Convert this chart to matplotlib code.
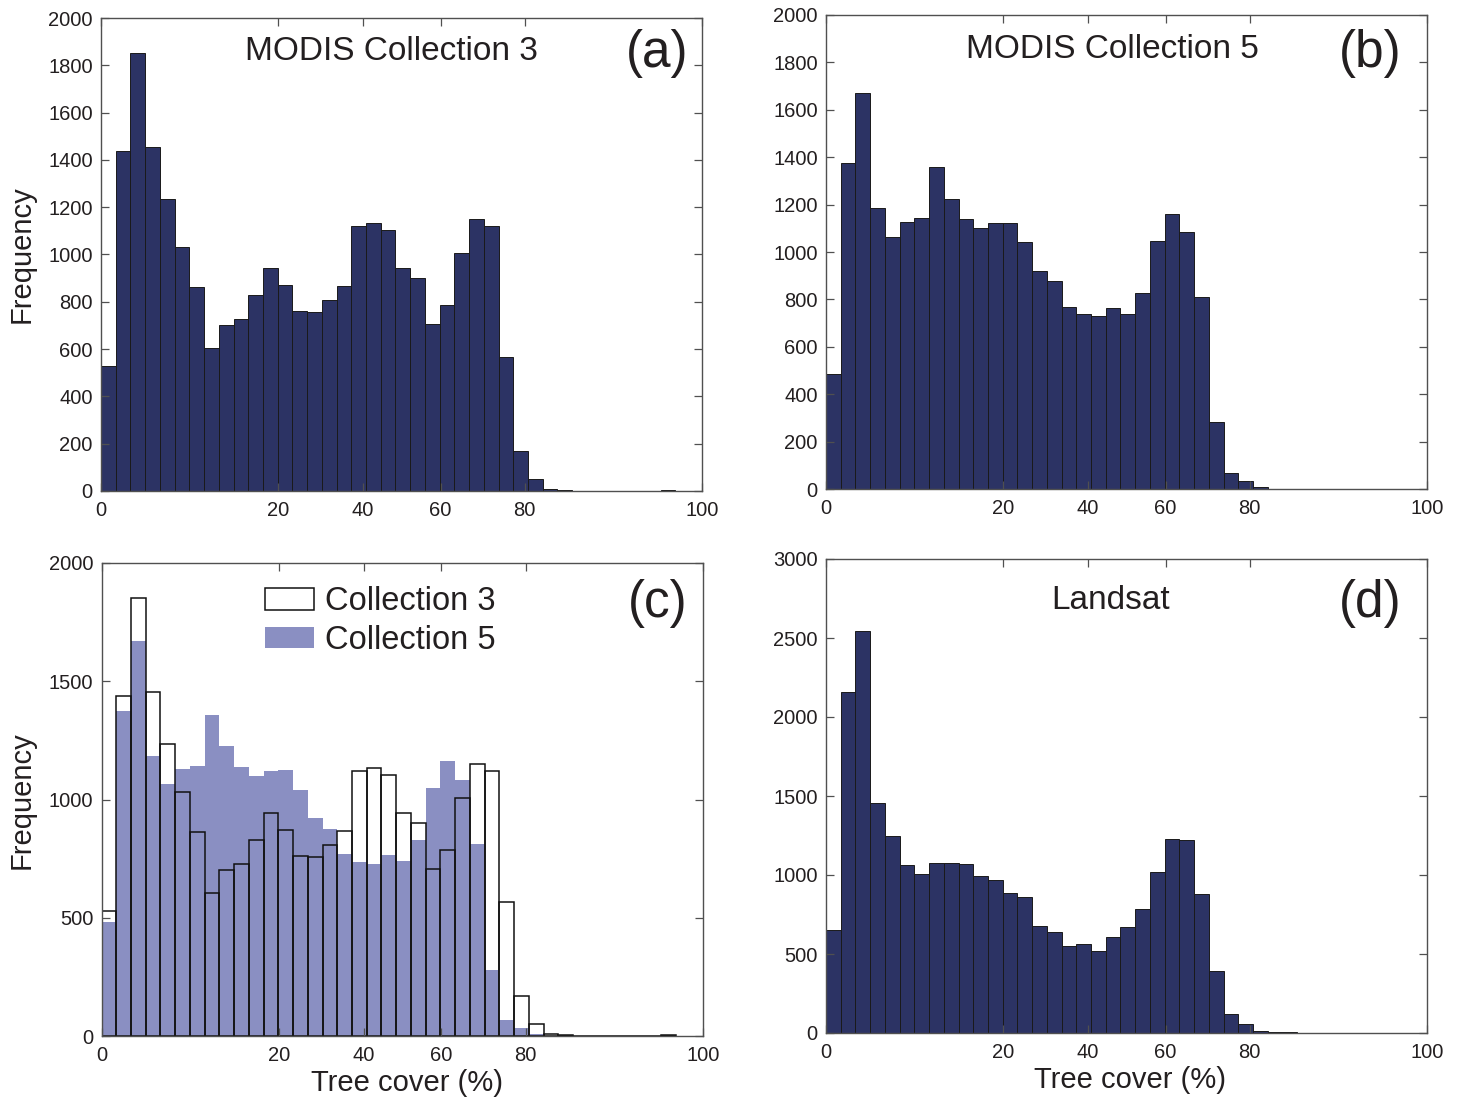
import numpy as np
import matplotlib
matplotlib.use("Agg")
import matplotlib.pyplot as plt

plt.rcParams['font.family'] = ['Liberation Sans', 'DejaVu Sans']

# ---- data (frequency per tree-cover bin) ----
modis_c3 = [527, 1439, 1854, 1453, 1234, 1030, 863, 604, 701, 729, 828, 942, 870, 762,
            756, 807, 867, 1119, 1133, 1102, 943, 900, 706, 788, 1008, 1151, 1119, 565,
            171, 51, 10, 5, 0, 0, 0, 0, 0, 0, 5]
modis_c5 = [484, 1376, 1671, 1184, 1065, 1128, 1143, 1359, 1225, 1139, 1100, 1121, 1124,
            1041, 921, 876, 769, 737, 729, 764, 738, 827, 1048, 1162, 1084, 812, 281,
            69, 33, 9]
landsat = [650, 2156, 2546, 1454, 1245, 1065, 1008, 1074, 1078, 1068, 992, 968, 886, 859,
           677, 637, 553, 565, 521, 610, 673, 787, 1017, 1226, 1222, 878, 395, 122, 59,
           13, 6, 4]

xtick_labels = ['0', '20', '40', '60', '80', '100']
xtick_pos = [0, 29.5, 43.6, 56.5, 70.5, 100]
panel_titles = ['MODIS Collection 3', 'MODIS Collection 5', '', 'Landsat']
panel_letters = ['(a)', '(b)', '(c)', '(d)']
legend_labels = ['Collection 3', 'Collection 5']

BIN_W = 2.45
NAVY = '#2c3364'
LIGHT = '#8a8fc2'
TXT = '#231f20'
SPINE = '#505050'

W, H = 1466, 1099
fig = plt.figure(figsize=(W / 100, H / 100), dpi=100)


def add_ax(l, t, r, b):
    return fig.add_axes([l / W, 1 - b / H, (r - l) / W, (b - t) / H])


ax_a = add_ax(101, 18, 702, 491)
ax_b = add_ax(826, 15, 1427, 489)
ax_c = add_ax(101.5, 563, 703, 1036)
ax_d = add_ax(826, 559, 1427, 1033)


def bins(vals):
    return np.arange(len(vals)) * BIN_W


def style(ax, ymax, ystep):
    ax.set_xlim(0, 100)
    ax.set_ylim(0, ymax)
    ax.set_xticks(xtick_pos)
    ax.set_xticklabels(xtick_labels)
    ax.set_yticks(np.arange(0, ymax + 1, ystep))
    ax.tick_params(direction='in', length=6, width=0.9, color=SPINE,
                   top=True, right=True, labelsize=14.5, labelcolor=TXT)
    ax.tick_params(axis='x', pad=7)
    ax.tick_params(axis='y', pad=6)
    for s in ax.spines.values():
        s.set_color(SPINE)
        s.set_linewidth(1.0)


# (a)
ax_a.bar(bins(modis_c3), modis_c3, width=BIN_W, align='edge', color=NAVY,
         edgecolor='#1a1a1a', linewidth=0.7)
style(ax_a, 2000, 200)
# (b)
ax_b.bar(bins(modis_c5), modis_c5, width=BIN_W, align='edge', color=NAVY,
         edgecolor='#1a1a1a', linewidth=0.7)
style(ax_b, 2000, 200)
# (c)
h5 = ax_c.bar(bins(modis_c5), modis_c5, width=BIN_W, align='edge', color=LIGHT,
              edgecolor='none', linewidth=0, label=legend_labels[1])
h3 = ax_c.bar(bins(modis_c3), modis_c3, width=BIN_W, align='edge', facecolor='none',
              edgecolor='#111111', linewidth=1.1, label=legend_labels[0])
style(ax_c, 2000, 500)
leg = ax_c.legend([h3, h5], legend_labels, loc='upper left', bbox_to_anchor=(0.25, 0.978),
                  frameon=False, fontsize=23.5, handlelength=1.5, handleheight=0.62,
                  handletextpad=0.35, labelspacing=0.22, borderaxespad=0)
for t in leg.get_texts():
    t.set_color(TXT)
# (d)
ax_d.bar(bins(landsat), landsat, width=BIN_W, align='edge', color=NAVY,
         edgecolor='#1a1a1a', linewidth=0.7)
style(ax_d, 3000, 500)

axes = [ax_a, ax_b, ax_c, ax_d]
title_pos = [(0.484, 0.93), (0.476, 0.928), None, (0.473, 0.913)]
letter_pos = [(0.925, 0.925), (0.905, 0.918), (0.924, 0.914), (0.905, 0.906)]
for ax, ttl, tp, let, lp in zip(axes, panel_titles, title_pos, panel_letters, letter_pos):
    if ttl:
        ax.text(tp[0], tp[1], ttl, transform=ax.transAxes, ha='center', va='center',
                fontsize=24, color=TXT)
    ax.text(lp[0], lp[1], let, transform=ax.transAxes, ha='center', va='center',
            fontsize=37, color=TXT)

fig.text(22 / W, 1 - 254 / H, 'Frequency', rotation=90, ha='center', va='center',
         fontsize=21, color=TXT)
fig.text(22 / W, 1 - 800 / H, 'Frequency', rotation=90, ha='center', va='center',
         fontsize=21, color=TXT)
fig.text(407 / W, 1 - 1083 / H, 'Tree cover (%)', ha='center', va='center',
         fontsize=21, color=TXT)
fig.text(1130 / W, 1 - 1080 / H, 'Tree cover (%)', ha='center', va='center',
         fontsize=21, color=TXT)

fig.savefig('out.png', dpi=100, facecolor='white')
